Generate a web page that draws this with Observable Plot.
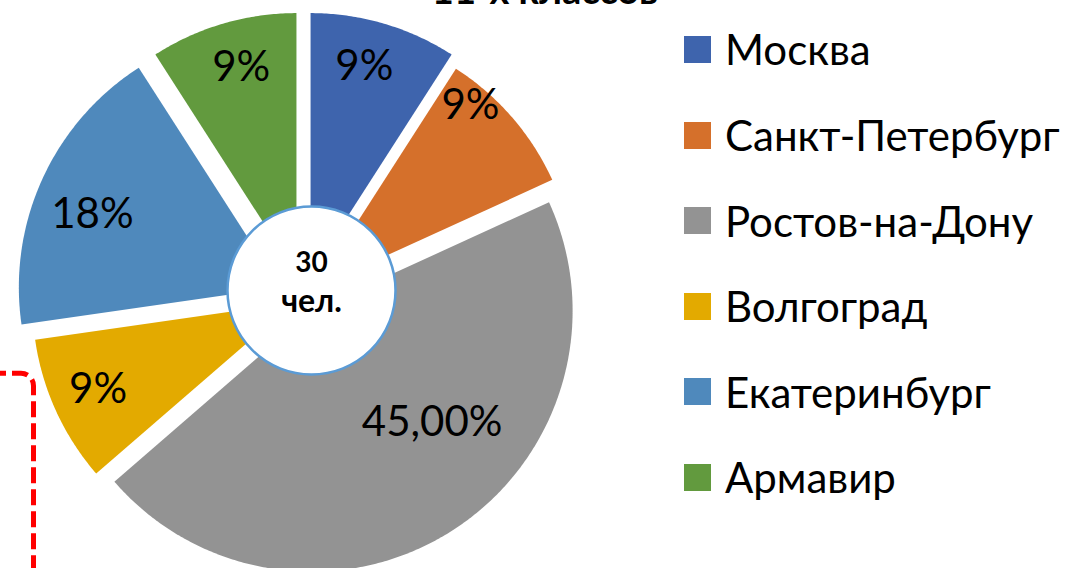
<!DOCTYPE html>
<html>
<head>
<meta charset="utf-8">
<script src="https://cdn.jsdelivr.net/npm/d3@7"></script>
<script src="https://cdn.jsdelivr.net/npm/@observablehq/plot@0.6"></script>
<style>
  html, body { margin: 0; padding: 0; background: #fff; overflow: hidden; }
  #wrap { position: relative; width: 1066px; height: 568px; font-family: Lato, "Noto Sans", sans-serif; }
  #title { position: absolute; left: 345px; width: 400px; top: -29.7px; text-align: center;
           font-weight: bold; font-size: 38px; line-height: 1; color: #000; white-space: nowrap; }
  #chart { position: absolute; left: 0; top: 0; }
  #legend { position: absolute; left: 684px; top: 6.7px; }
  .item { height: 85.6px; display: flex; align-items: center; }
  .sw { width: 27px; height: 27px; margin-right: 14px; flex: none; }
  .lab { font-size: 42px; line-height: 1; color: #000; white-space: nowrap; }
</style>
</head>
<body>
<div id="wrap">
  <div id="chart"></div>
  <div id="title">11-х классов</div>
  <div id="legend"></div>
</div>
<script>
// ---- data ----
const cities = ["Москва", "Санкт-Петербург", "Ростов-на-Дону", "Волгоград", "Екатеринбург", "Армавир"];
const shares = [9, 9, 45, 9, 18, 9];
const shareLabels = ["9%", "9%", "45,00%", "9%", "18%", "9%"];
const centerText = ["30", "чел."];
const titleText = "11-х классов";

// ---- styles / layout ----
const colors = ["#3e64ad", "#d5702b", "#939393", "#e3aa00", "#4f89bc", "#629a3e"];
const W = 1066, H = 568;
const R = 261;              // pie radius, px
const CX = 303, CY = 297.6; // pie centre, px
const explodePx = [25, 15, 15, 11, 26, 25];
// label placement tweaks: [angle shift (deg), radius fraction]
const labelPlacement = [[-1.8, 0.82], [-8.7, 0.92], [-14.4, 0.63], [0.5, 0.82], [-3.4, 0.77], [1.4, 0.82]];
const holeOffsetPx = [8, -7.6];  // right, down
const holeR = 84;

document.getElementById("title").textContent = titleText;

const total = d3.sum(shares);
let acc = 0;
const slices = cities.map((city, i) => {
  const a0 = acc / total * 2 * Math.PI;
  acc += shares[i];
  const a1 = acc / total * 2 * Math.PI;
  const mid = (a0 + a1) / 2;
  const e = explodePx[i] / R;
  return {city, i, a0, a1, mid, ox: e * Math.sin(mid), oy: e * Math.cos(mid)};
});

const pts = [];
for (const s of slices) {
  pts.push({city: s.city, x: s.ox, y: s.oy});
  const n = Math.max(2, Math.ceil((s.a1 - s.a0) / (Math.PI / 360)));
  for (let k = 0; k <= n; k++) {
    const a = s.a0 + (s.a1 - s.a0) * k / n;
    pts.push({city: s.city, x: s.ox + Math.sin(a), y: s.oy + Math.cos(a)});
  }
  pts.push({city: s.city, x: s.ox, y: s.oy});
}

const labelData = slices.map(s => {
  const [shift, rf] = labelPlacement[s.i];
  const a = s.mid + shift * Math.PI / 180;
  return {text: shareLabels[s.i], x: s.ox + rf * Math.sin(a), y: s.oy + rf * Math.cos(a)};
});

const hole = [{x: holeOffsetPx[0] / R, y: -holeOffsetPx[1] / R}];

const chart = Plot.plot({
  width: W, height: H, margin: 0,
  x: {domain: [-CX / R, (W - CX) / R], range: [0, W], axis: null},
  y: {domain: [-(H - CY) / R, CY / R], range: [H, 0], axis: null},
  color: {domain: cities, range: colors},
  style: {fontFamily: "Lato, 'Noto Sans', sans-serif", background: "transparent", overflow: "visible"},
  marks: [
    Plot.line(pts, {x: "x", y: "y", z: "city", fill: "city", stroke: "none", curve: "linear"}),
    Plot.text(labelData, {x: "x", y: "y", text: "text", fontSize: 42, fill: "#000"}),
    Plot.dot(hole, {x: "x", y: "y", r: holeR, fill: "#fff", stroke: "#5b9bd5", strokeWidth: 2.5}),
    Plot.text(hole, {x: "x", y: "y", text: () => centerText[0], fontSize: 28, fontWeight: "bold", fill: "#000", lineAnchor: "bottom", dy: -18.3}),
    Plot.text(hole, {x: "x", y: "y", text: () => centerText[1], fontSize: 32, fontWeight: "bold", fill: "#000", lineAnchor: "bottom", dy: 21})
  ]
});
document.getElementById("chart").appendChild(chart);

// decorative red dashed frame (partially visible at lower left)
d3.select(chart).append("path")
  .attr("d", "M -10 373.3 H 21 A 12.5 12.5 0 0 1 33.5 385.8 V 600")
  .attr("fill", "none").attr("stroke", "#ff0000").attr("stroke-width", 5)
  .attr("stroke-dasharray", "16 6");

// legend
const legend = d3.select("#legend");
cities.forEach((c, i) => {
  const row = legend.append("div").attr("class", "item");
  row.append("div").attr("class", "sw").style("background", colors[i]);
  row.append("div").attr("class", "lab").text(c);
});
</script>
</body>
</html>
